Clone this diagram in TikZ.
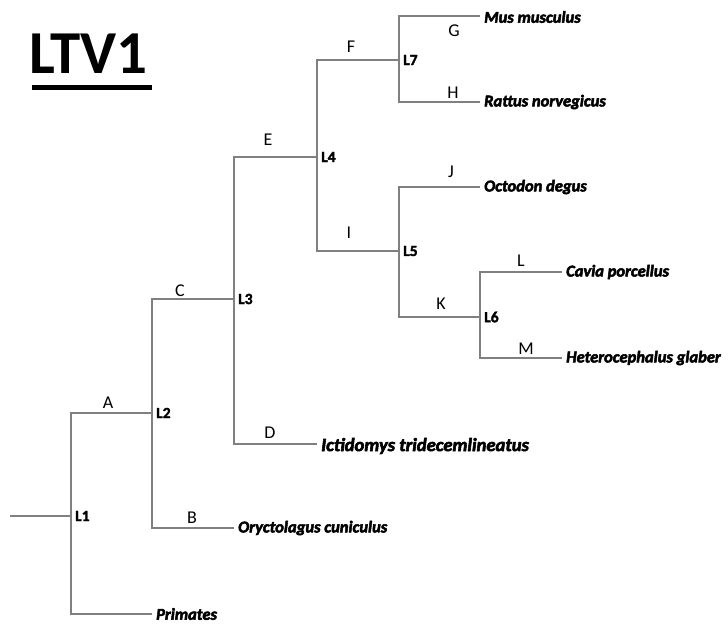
\documentclass[tikz,border=0pt]{standalone}
\usepackage{fontspec}
\setmainfont{Carlito}
\newfontfamily\spfont[BoldItalicFeatures={FakeBold=3}, BoldFeatures={FakeBold=2}]{Carlito}
\begin{document}
\begin{tikzpicture}[x=1pt,y=-1pt,
  br/.style={draw=black!50, line width=1.3pt},
  lbl/.style={font=\fontsize{18}{18}\selectfont, inner sep=0pt},
  intl/.style={font=\spfont\fontsize{15.5}{15.5}\selectfont\bfseries, anchor=west, inner xsep=4pt, inner ysep=0pt},
  sp/.style={font=\spfont\fontsize{16.5}{16.5}\selectfont\bfseries\itshape, anchor=west, inner xsep=4pt, inner ysep=0pt},
  spbig/.style={font=\spfont\fontsize{18.6}{18.6}\selectfont\bfseries\itshape, anchor=west, inner xsep=4pt, inner ysep=0pt}]
\useasboundingbox (0,0) rectangle (728,624);
\fill[white] (0,0) rectangle (728,624);
% title
\node[font=\fontsize{61}{61}\selectfont\bfseries, anchor=base west, inner sep=0pt] (title) at (29,73) {LTV1};
\fill (32,85) rectangle (152,90);
% junctions
\coordinate (root) at (10,516);
\coordinate (n1) at (71,516);
\coordinate (n2) at (152,413);
\coordinate (n3) at (234,299);
\coordinate (n4) at (317,157);
\coordinate (n5) at (399,251);
\coordinate (n6) at (480,317);
\coordinate (n7) at (399,60);
% internal labels
\node[intl] (L1) at (n1) {L1};
\node[intl] (L2) at (n2) {L2};
\node[intl] (L3) at (n3) {L3};
\node[intl] (L4) at (n4) {L4};
\node[intl] (L5) at (n5) {L5};
\node[intl] (L6) at (n6) {L6};
\node[intl] (L7) at (n7) {L7};
% tips
\node[sp] (prim) at (152,614) {Primates};
\node[sp] (oryc) at (234,528) {Oryctolagus cuniculus};
\node[spbig] (icti) at (317,446) {Ictidomys tridecemlineatus};
\node[sp] (mus) at (480,17) {Mus musculus};
\node[sp] (rat) at (480,102) {Rattus norvegicus};
\node[sp] (oct) at (480,187) {Octodon degus};
\node[sp] (cav) at (562,272) {Cavia porcellus};
\node[sp] (het) at (562,358) {Heterocephalus glaber};
% branches
\draw[br] (root) -- (n1);
\draw[br] (n1) |- (n2);
\draw[br] (n1) |- (prim.west);
\draw[br] (n2) |- (n3);
\draw[br] (n2) |- (oryc.west);
\draw[br] (n3) |- (n4);
\draw[br] (n3) |- (icti.west |- 0,444);
\draw[br] (n4) |- (n7);
\draw[br] (n4) |- (n5);
\draw[br] (n7) |- (mus.west |- 0,16);
\draw[br] (n7) |- (rat.west);
\draw[br] (n5) |- (oct.west);
\draw[br] (n5) |- (n6);
\draw[br] (n6) |- (cav.west);
\draw[br] (n6) |- (het.west);
% branch letters
\node[lbl] (A) at (108,403) {A};
\node[lbl] (B) at (192,518) {B};
\node[lbl] (C) at (180,291) {C};
\node[lbl] (D) at (270,433) {D};
\node[lbl] (E) at (268,140) {E};
\node[lbl] (F) at (351,47) {F};
\node[lbl] (G) at (454,31) {G};
\node[lbl] (H) at (453,93) {H};
\node[lbl] (I) at (349,233) {I};
\node[lbl] (J) at (451,172) {J};
\node[lbl] (K) at (441,304) {K};
\node[lbl] (Lb) at (521,261) {L};
\node[lbl] (M) at (526,349) {M};
\end{tikzpicture}
\end{document}
